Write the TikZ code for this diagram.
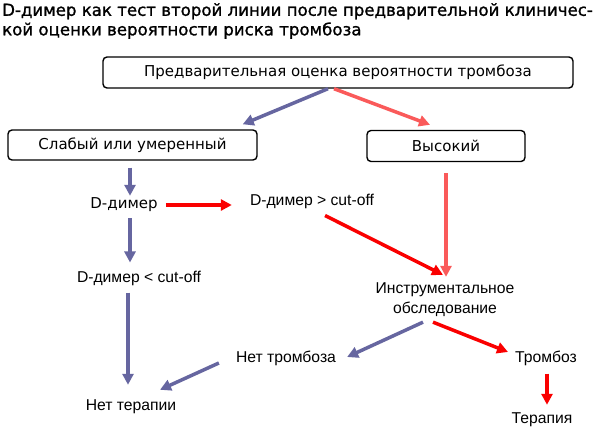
\documentclass[tikz,border=0pt]{standalone}
\usepackage{fontspec}
\setmainfont{Liberation Sans}
\newfontfamily\comicf{DejaVu Sans}
\newfontfamily\comict[FakeBold=1.2]{DejaVu Sans}
\usetikzlibrary{arrows.meta}
\definecolor{arblue}{RGB}{102,102,160}
\definecolor{arlred}{RGB}{250,90,90}
\definecolor{arred}{RGB}{250,0,0}
\tikzset{
  box/.style={draw, line width=1.4pt, rounded corners=4pt, inner sep=0pt, font=\comicf\fontsize{15}{18}\selectfont},
  txt/.style={inner sep=0pt, font=\fontsize{15.7}{20}\selectfont},
  arr/.style={line width=3.5pt, -{Triangle[length=11pt,width=11pt]}},
  barr/.style={arr, draw=arblue, arblue},
  rarr/.style={arr, draw=arred, arred},
  larr/.style={arr, draw=arlred, arlred}
}
\begin{document}
\begin{tikzpicture}[x=1pt,y=-1pt]
\useasboundingbox (0,0) rectangle (600,434);
\fill[white] (0,0) rectangle (600,434);
\node[anchor=north west, inner sep=0pt, align=left, font=\comict\fontsize{16.6}{19.5}\selectfont] (title) at (2,3)
  {D-димер как тест второй линии после предварительной клиничес-\\кой оценки вероятности риска тромбоза};
\node[box, minimum width=470pt, minimum height=31pt] (top) at (338,72.5) {Предварительная оценка вероятности тромбоза};
\node[box, minimum width=249pt, minimum height=30pt] (left) at (132.5,145) {Слабый или умеренный};
\node[box, minimum width=158pt, minimum height=31pt] (right) at (446,146) {Высокий};
\node[txt, font=\comicf\fontsize{15}{18}\selectfont] (dimer) at (124,205) {D-димер};
\node[txt] (dgt) at (312,201) {D-димер > cut-off};
\node[txt] (dlt) at (139,278) {D-димер < cut-off};
\node[txt, align=center] (instr) at (445,300) {Инструментальное\\обследование};
\node[txt] (net) at (286,358) {Нет тромбоза};
\node[txt] (tromb) at (546,358) {Тромбоз};
\node[txt] (netter) at (131,407) {Нет терапии};
\node[txt] (terap) at (542,420) {Терапия};

\draw[barr] ([xshift=-10pt]top.south) -- ([xshift=-15pt,yshift=5pt]left.north east);
\draw[larr] ([xshift=-4pt]top.south) -- ([xshift=-16pt,yshift=5pt]right.north);
\draw[barr] ([xshift=-2.5pt,yshift=-7pt]left.south) -- ([xshift=6pt,yshift=2pt]dimer.north);
\draw[rarr] ([xshift=8pt,yshift=0pt]dimer.east) -- ([xshift=-18pt]dimer.east -| dgt.west);
\draw[barr] ([xshift=6pt,yshift=-6pt]dimer.south) -- ([xshift=-9pt,yshift=8pt]dlt.north);
\draw[rarr] ([xshift=13pt,yshift=-7pt]dgt.south) -- ([xshift=-2pt,yshift=8pt]instr.north);
\draw[larr] ([yshift=-11pt]right.south) -- ([xshift=1pt,yshift=6pt]instr.north);
\draw[barr] ([xshift=-22pt,yshift=-5pt]instr.south) -- ([xshift=11pt,yshift=1pt]net.east);
\draw[rarr] ([xshift=-12pt,yshift=-5pt]instr.south) -- ([xshift=-7pt,yshift=6pt]tromb.west);
\draw[barr] ([xshift=-11pt,yshift=-7pt]dlt.south) -- ([xshift=-3pt,yshift=15pt]netter.north);
\draw[barr] ([xshift=-17pt,yshift=-5pt]net.west) -- ([xshift=29pt,yshift=10pt]netter.north);
\draw[rarr] ([xshift=1pt,yshift=-8pt]tromb.south) -- ([xshift=5pt,yshift=8pt]terap.north);
\end{tikzpicture}
\end{document}
